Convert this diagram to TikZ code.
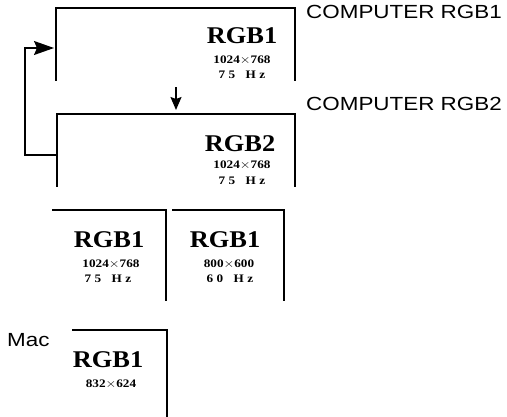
\documentclass[tikz,border=0pt]{standalone}
\usepackage{fontspec}
\setmainfont{Liberation Serif}
\newfontfamily\labfont{Liberation Sans}
\usetikzlibrary{arrows.meta}
\tikzset{
  frame/.style={line width=1.4pt, line cap=rect},
  big/.style={font=\fontsize{24}{24}\selectfont\bfseries, xscale=1.1, inner sep=0pt, text height=15.5pt, text depth=0pt},
  small/.style={font=\fontsize{11.5}{11.5}\selectfont\bfseries, xscale=1.15, inner sep=0pt, text height=7.8pt, text depth=0pt},
  lab/.style={font=\labfont\fontsize{19}{19}\selectfont, xscale=1.18, inner sep=0pt, anchor=west, text height=13.5pt, text depth=0pt},
  conn/.style={line width=1.5pt},
}
\newcommand{\hz}[1]{#1\hspace{3pt}H\hspace{3pt}z}
\begin{document}
\begin{tikzpicture}[x=1pt,y=-1pt]
\useasboundingbox (0,0) rectangle (507,416);
% box 1
\draw[frame] (56,80) -- (56,8) -- (295,8) -- (295,80);
\node[big] (r1) at (242,36) {RGB1};
\node[small] (r1a) at (242,60) {1024$\times$768};
\node[small] (r1b) at (242,75) {\hz{7\hspace{3pt}5\hspace{6pt}}};
\node[lab] (c1) at (306,12) {COMPUTER RGB1};
% box 2
\draw[frame] (57,186) -- (57,114) -- (295,114) -- (295,186);
\node[big] (r2) at (240,144) {RGB2};
\node[small] (r2a) at (242,165) {1024$\times$768};
\node[small] (r2b) at (242,181) {\hz{7\hspace{3pt}5\hspace{6pt}}};
\node[lab] (c2) at (306,104) {COMPUTER RGB2};
% connectors
\coordinate (in1) at (54,48);
\coordinate (out2) at (57,155);
\coordinate (dtop) at (176,87);
\coordinate (dbot) at (176,110);
\draw[conn, -{Stealth[length=20pt,width=14pt,inset=3pt]}] (out2) -- (25,155) -- (25,48) -- (in1);
\draw[conn, -{Stealth[length=13pt,width=11pt,inset=2pt]}] (dtop) -- (dbot);
% bottom row
\draw[frame] (53,210) -- (166,210) -- (166,300);
\node[big] (r3) at (109,240) {RGB1};
\node[small] (r3a) at (111,264) {1024$\times$768};
\node[small] (r3b) at (108,279) {\hz{7\hspace{3pt}5\hspace{6pt}}};
\draw[frame] (173,210) -- (284,210) -- (284,300);
\node[big] (r4) at (225,240) {RGB1};
\node[small] (r4a) at (229,264) {800$\times$600};
\node[small] (r4b) at (230,279) {\hz{6\hspace{3pt}0\hspace{6pt}}};
% Mac
\node[lab] (mac) at (7,340) {Mac};
\draw[frame] (73,330) -- (167,330) -- (167,416);
\node[big] (r5) at (108,360) {RGB1};
\node[small] (r5a) at (111,384) {832$\times$624};
\end{tikzpicture}
\end{document}
